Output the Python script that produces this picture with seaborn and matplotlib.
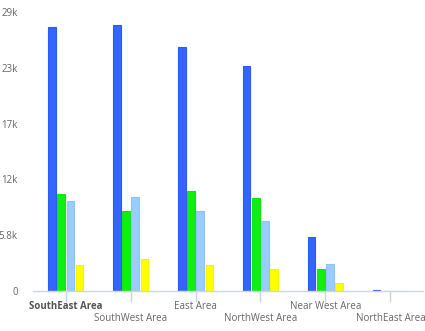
import matplotlib
matplotlib.use("Agg")
import matplotlib.pyplot as plt
import seaborn as sns
import pandas as pd

categories = ["SouthEast Area", "SouthWest Area", "East Area", "NorthWest Area", "Near West Area", "NorthEast Area"]
series_names = ["S1", "S2", "S3", "S4"]
s1 = [27400, 27650, 25400, 23400, 5600, 120]
s2 = [10100, 8300, 10400, 9700, 2300, 0]
s3 = [9350, 9800, 8300, 7300, 2800, 0]
s4 = [2700, 3300, 2700, 2300, 800, 0]
ytick_vals = [0, 5800, 11600, 17400, 23200, 29000]
ytick_labels = ["0", "5.8k", "12k", "17k", "23k", "29k"]
colors = ["#3366FF", "#11EE11", "#99CCFF", "#FFFF00"]
edges = ["#2a5cf5", "#0ee40e", "#90c4f8", "#f5f500"]

rows = []
for name, vals in zip(series_names, [s1, s2, s3, s4]):
    for c, v in zip(categories, vals):
        rows.append({"cat": c, "series": name, "value": v})
df = pd.DataFrame(rows)

sns.set_style("white")
plt.rcParams["font.family"] = ["Open Sans", "DejaVu Sans"]

fig = plt.figure(figsize=(4.25, 3.31), dpi=100)
ax = fig.add_axes([0.078, 0.121, 0.917, 0.843])

sns.barplot(data=df, x="cat", y="value", hue="series", order=categories,
            hue_order=series_names, palette=colors, saturation=1, width=0.56, gap=0.2,
            ax=ax, legend=False, errorbar=None, linewidth=0.8)
for i, cont in enumerate(ax.containers):
    for p in cont:
        p.set_edgecolor(edges[i])

ax.set_xlim(-0.5, 5.5)
ax.set_ylim(0, 29000)
ax.set_yticks(ytick_vals)
ax.set_yticklabels(ytick_labels, color="#666666", fontsize=7)
ax.tick_params(axis="y", length=0, pad=11)

ax.set_xticks(range(len(categories)))
ax.set_xticklabels(categories, fontsize=7, color="#666666")
ax.get_xticklabels()[0].set_fontweight("bold")
ax.get_xticklabels()[0].set_color("#555555")
ax.tick_params(axis="x", length=8, color="#c8d2e8", width=1, direction="out", bottom=True)
for i, t in enumerate(ax.xaxis.get_major_ticks()):
    t.set_pad(8 if i % 2 == 1 else -1)

for s in ["top", "right", "left"]:
    ax.spines[s].set_visible(False)
ax.spines["bottom"].set_color("#ccd6eb")
ax.spines["bottom"].set_linewidth(1)
ax.set_xlabel("")
ax.set_ylabel("")
ax.grid(False)

fig.savefig("out.png", dpi=100)
